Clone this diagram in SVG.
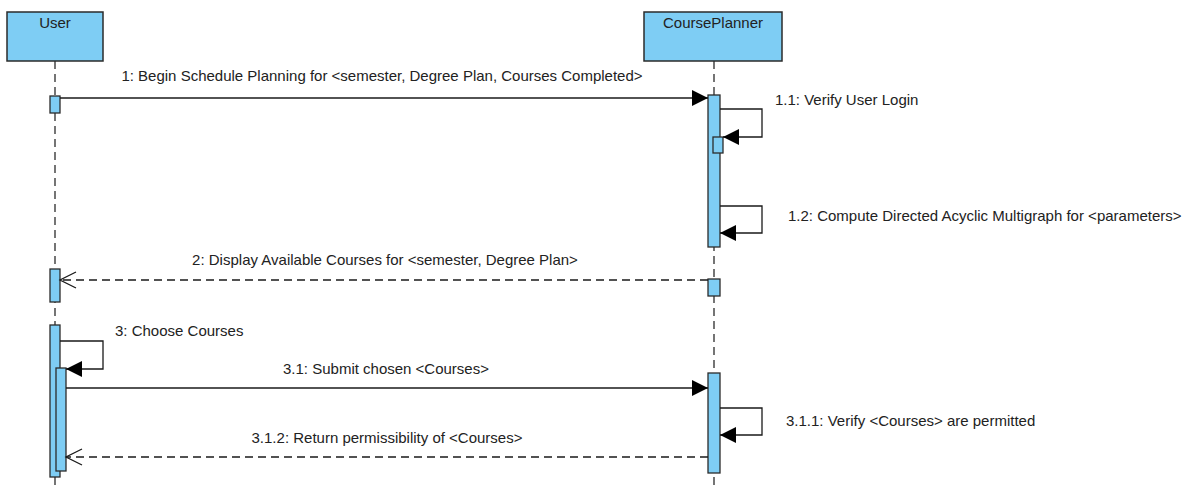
<svg xmlns="http://www.w3.org/2000/svg" width="1196" height="487" viewBox="0 0 1196 487">
  <style>
    .head { fill: #7ecdf4; stroke: #2b2b2b; stroke-width: 1.5; }
    .act { fill: #7ecdf4; stroke: #2b2b2b; stroke-width: 1.3; }
    .life { stroke: #2b2b2b; stroke-width: 1.3; stroke-dasharray: 8 5; fill: none; }
    .msg { stroke: #1a1a1a; stroke-width: 1.3; fill: none; }
    .ret { stroke: #1a1a1a; stroke-width: 1.3; fill: none; stroke-dasharray: 8 5; }
    text { font-family: "Liberation Sans", Arial, sans-serif; font-size: 15px; fill: #222; }
    .mid { text-anchor: middle; }
  </style>
  <defs>
    <marker id="solid" markerUnits="userSpaceOnUse" markerWidth="17" markerHeight="17" refX="16" refY="8" orient="auto">
      <path d="M0,0 L16,8 L0,16 z" fill="#000"/>
    </marker>
    <marker id="open" markerUnits="userSpaceOnUse" markerWidth="19" markerHeight="19" refX="17" refY="9" orient="auto">
      <path d="M1,1 L17,9 L1,17" fill="none" stroke="#1a1a1a" stroke-width="1.3"/>
    </marker>
  </defs>

  <!-- lifeline heads and dashed lifelines -->
  <g id="user">
    <line class="life" x1="55" y1="61" x2="55" y2="487"/>
    <rect class="head" x="7" y="12" width="96" height="49"/>
    <text class="mid" x="55" y="28">User</text>
  </g>
  <g id="courseplanner">
    <line class="life" x1="714" y1="61" x2="714" y2="487"/>
    <rect class="head" x="644" y="12" width="138" height="49"/>
    <text class="mid" x="713" y="28">CoursePlanner</text>
  </g>

  <!-- activation bars -->
  <g id="activations">
    <rect class="act" x="50" y="96" width="10" height="17"/>
    <rect class="act" x="708" y="95" width="12" height="152"/>
    <rect class="act" x="713" y="137" width="10" height="16"/>
    <rect class="act" x="50" y="269" width="10" height="33"/>
    <rect class="act" x="708" y="279" width="12" height="17"/>
    <rect class="act" x="50" y="325" width="10" height="152"/>
    <rect class="act" x="56" y="368" width="10" height="103"/>
    <rect class="act" x="708" y="373" width="12" height="100"/>
  </g>

  <!-- messages -->
  <g id="connectors">
    <line class="msg" x1="60" y1="98" x2="708" y2="98" marker-end="url(#solid)"/>
    <polyline class="msg" points="720,109 762,109 762,137 723,137" marker-end="url(#solid)"/>
    <polyline class="msg" points="720,206 762,206 762,233 720,233" marker-end="url(#solid)"/>
    <line class="ret" x1="708" y1="280" x2="60" y2="280" marker-end="url(#open)"/>
    <polyline class="msg" points="60,341 103,341 103,369 66,369" marker-end="url(#solid)"/>
    <line class="msg" x1="66" y1="388" x2="708" y2="388" marker-end="url(#solid)"/>
    <polyline class="msg" points="720,408 762,408 762,435 720,435" marker-end="url(#solid)"/>
    <line class="ret" x1="708" y1="457" x2="66" y2="457" marker-end="url(#open)"/>
  </g>

  <!-- message labels -->
  <g id="labels">
    <text class="mid" x="382" y="81">1: Begin Schedule Planning for &lt;semester, Degree Plan, Courses Completed&gt;</text>
    <text x="775" y="105">1.1: Verify User Login</text>
    <text x="788" y="221">1.2: Compute Directed Acyclic Multigraph for &lt;parameters&gt;</text>
    <text class="mid" x="385" y="265">2: Display Available Courses for &lt;semester, Degree Plan&gt;</text>
    <text x="115" y="336">3: Choose Courses</text>
    <text class="mid" x="386" y="374">3.1: Submit chosen &lt;Courses&gt;</text>
    <text x="786" y="426">3.1.1: Verify &lt;Courses&gt; are permitted</text>
    <text class="mid" x="387" y="443">3.1.2: Return permissibility of &lt;Courses&gt;</text>
  </g>
</svg>
